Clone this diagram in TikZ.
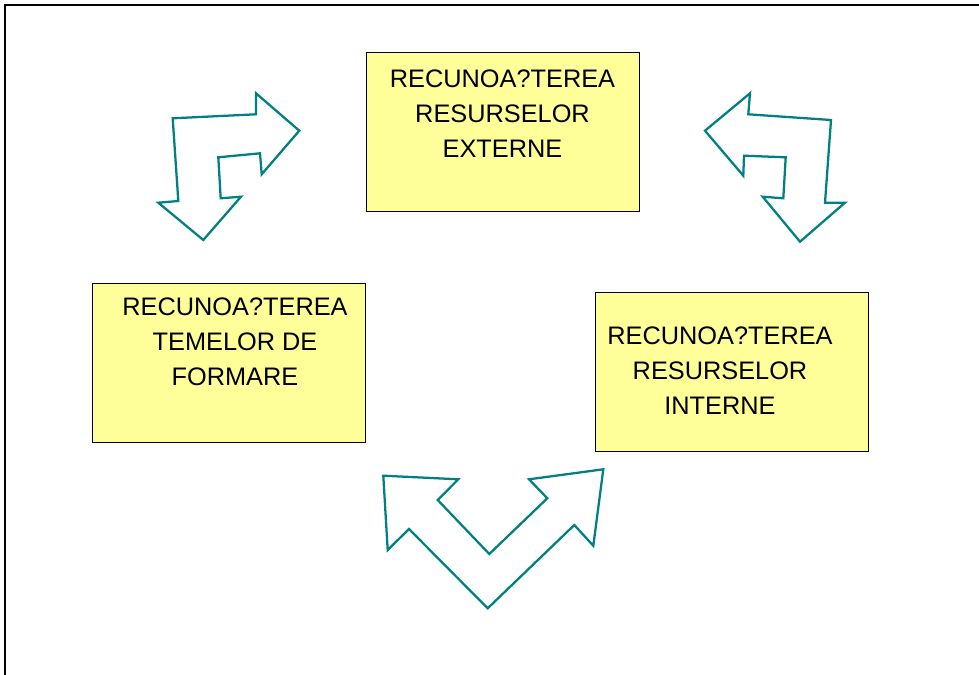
\documentclass[tikz,border=0pt]{standalone}
\usepackage{fontspec}
\setmainfont{Liberation Sans}
\definecolor{paleyellow}{HTML}{FFFF99}
\definecolor{tealline}{HTML}{008080}

\begin{document}
\begin{tikzpicture}
  [x=0.75pt,y=-0.75pt,
  box/.style={draw=black,line width=0.75pt,fill=paleyellow,minimum width=204.75pt,minimum height=119.25pt,inner sep=0pt},
  txt/.style={anchor=north,align=center,inner sep=0pt,font=\fontsize{19}{26.25}\selectfont},
  turn/.style={draw=tealline,line width=1.7pt,line join=miter,fill=white}]

  \useasboundingbox (0,0) rectangle (979,675);
  \draw[line width=1.5pt] (5,675) -- (5,5) -- (979,5);

  % boxes
  \node[box] (ext) at (502.5,132) {};
  \node[box] (tem) at (229,362.5) {};
  \node[box] (int) at (732,371.5) {};

  \node[txt] (extt) at (502.5,70) {RECUNOA?TEREA\\RESURSELOR\\EXTERNE};
  \node[txt] (temt) at (235,298) {RECUNOA?TEREA\\TEMELOR DE\\FORMARE};
  \node[txt] (intt) at (720,327) {RECUNOA?TEREA\\RESURSELOR\\INTERNE};

  % turning arrows
  \draw[turn] (299.3,130.7) -- (256,93.3) -- (256,114.3) -- (172.7,118.3)
    -- (178.3,201) -- (158.3,202.7) -- (203.3,240) -- (241,196.7)
    -- (220.7,198.3) -- (218.3,157.3) -- (260,153.3) -- (261.7,174.3) -- cycle;

  \draw[turn] (705,130.7) -- (750,93.3) -- (748.3,114.3) -- (831,120)
    -- (825,202.7) -- (845,202.7) -- (800,241.7) -- (762.7,196.7)
    -- (783.3,198.3) -- (785.7,157.3) -- (744,155.7) -- (743.3,175.7) -- cycle;

  \draw[turn] (383.3,475.7) -- (458.3,479.3) -- (437.7,500) -- (489.3,554)
    -- (547.3,498.3) -- (529,479.3) -- (603.3,469.3) -- (593.3,545.7)
    -- (574.3,525) -- (487.7,608.3) -- (409,529) -- (387.7,550) -- cycle;

\end{tikzpicture}
\end{document}
